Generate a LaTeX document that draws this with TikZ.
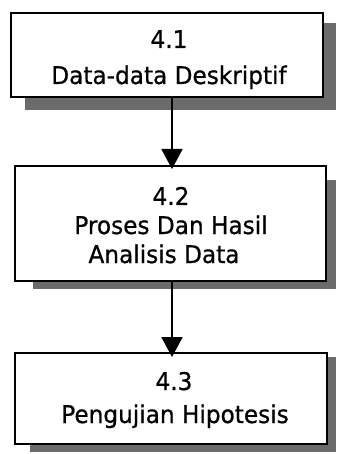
\documentclass[tikz,border=0pt]{standalone}
\usepackage{fontspec}
\setmainfont{DejaVu Sans}[FakeStretch=0.95,FakeBold=0.7]
\usetikzlibrary{arrows.meta}
\begin{document}
\begin{tikzpicture}[x=1bp,y=-1bp,
  shadowbox/.style={fill=black!58,draw=none,inner sep=0pt,outer sep=0pt},
  stepbox/.style={draw=black,line width=1.9bp,fill=white,inner sep=0pt,outer sep=0pt},
  lbl/.style={anchor=base,inner sep=0pt,font=\fontsize{24.5}{28}\selectfont},
  arr/.style={line width=1.9bp,-{Triangle[length=20bp,width=21bp]}}]
\useasboundingbox (0,0) rectangle (336,454);
% shadows
\node[shadowbox,minimum width=311bp,minimum height=87bp] (s1) at (180.5,66.5) {};
\node[shadowbox,minimum width=303bp,minimum height=109bp] (s2) at (184.5,234.5) {};
\node[shadowbox,minimum width=306bp,minimum height=95bp] (s3) at (183,404.5) {};
% boxes
\node[stepbox,minimum width=312bp,minimum height=84bp] (b1) at (167,55) {};
\node[stepbox,minimum width=311bp,minimum height=115bp] (b2) at (170.5,223.5) {};
\node[stepbox,minimum width=312bp,minimum height=91bp] (b3) at (171,398.5) {};
% texts
\node[lbl] (t11) at (169,48) {4.1};
\node[lbl] (t12) at (169,84) {Data-data Deskriptif};
\node[lbl] (t21) at (171,205) {4.2};
\node[lbl] (t22) at (171,234) {Proses Dan Hasil};
\node[lbl] (t23) at (164,263) {Analisis Data};
\node[lbl] (t31) at (174,390) {4.3};
\node[lbl] (t32) at (175,423) {Pengujian Hipotesis};
% arrows
\coordinate (ax) at (172,0);
\draw[arr] (b1.south -| ax) -- ([yshift=-3bp]b2.north -| ax);
\draw[arr] (b2.south -| ax) -- ([yshift=-4bp]b3.north -| ax);
\end{tikzpicture}
\end{document}
